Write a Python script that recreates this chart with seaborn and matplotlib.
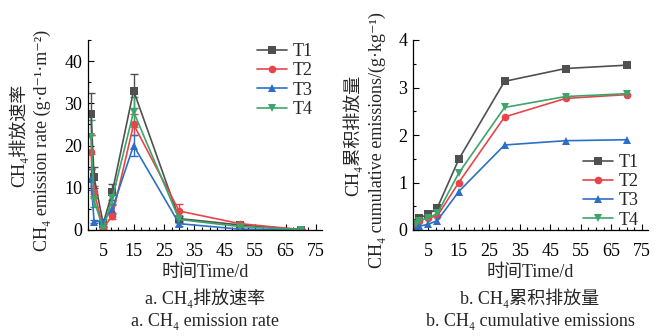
import numpy as np
import pandas as pd
import seaborn as sns
from matplotlib import pyplot as plt
from matplotlib.ticker import MultipleLocator

# data
days = [1, 2, 5, 8, 15, 30, 50, 70]
treatments = ["T1", "T2", "T3", "T4"]

rate_t1 = [27.5, 12.5, 1.5, 9.0, 33.0, 2.7, 1.2, 0.1]
rate_t2 = [18.5, 9.0, 0.5, 3.3, 25.0, 4.5, 1.5, 0.1]
rate_t3 = [12.0, 2.0, 2.0, 5.0, 20.0, 1.5, 0.2, 0.1]
rate_t4 = [22.0, 7.0, 0.3, 7.5, 28.0, 2.5, 0.8, 0.1]

err_t1 = [5.0, 2.5, 0.5, 2.0, 4.0, 0.5, 0.3, 0.1]
err_t2 = [4.0, 1.5, 0.3, 0.8, 2.5, 1.7, 0.3, 0.1]
err_t3 = [2.5, 0.3, 0.5, 1.2, 2.5, 0.5, 0.1, 0.1]
err_t4 = [4.0, 1.5, 0.3, 1.5, 3.5, 0.8, 0.3, 0.1]

cum_t1 = [0.15, 0.25, 0.33, 0.47, 1.49, 3.13, 3.40, 3.47]
cum_t2 = [0.10, 0.20, 0.25, 0.30, 1.00, 2.38, 2.77, 2.85]
cum_t3 = [0.05, 0.08, 0.12, 0.20, 0.81, 1.79, 1.88, 1.90]
cum_t4 = [0.12, 0.20, 0.25, 0.35, 1.20, 2.58, 2.81, 2.87]

colors = {"T1": "#505050", "T2": "#e8454b", "T3": "#2d6fc4", "T4": "#3da56a"}
markers = {"T1": "s", "T2": "o", "T3": "^", "T4": "v"}

sns.set_theme(style="ticks")
plt.rcParams['font.family'] = ['Liberation Serif', 'Noto Sans CJK SC', 'DejaVu Serif']
plt.rcParams['font.size'] = 13
plt.rcParams['axes.unicode_minus'] = False

rates = [rate_t1, rate_t2, rate_t3, rate_t4]
errs = [err_t1, err_t2, err_t3, err_t4]
cums = [cum_t1, cum_t2, cum_t3, cum_t4]

df = pd.concat([
    pd.DataFrame({"day": days, "trt": t, "rate": r, "err": e, "cum": c})
    for t, r, e, c in zip(treatments, rates, errs, cums)
], ignore_index=True)

fig = plt.figure(figsize=(6.64, 3.36), dpi=100)
W, H = 664, 336
ax1 = fig.add_axes([88 / W, 1 - 230 / H, 234 / W, 190 / H])
ax2 = fig.add_axes([413 / W, 1 - 230 / H, 235 / W, 190 / H])

# panel a: emission rate with error bars
for t in treatments:
    sub = df[df.trt == t]
    ax1.errorbar(sub.day, sub.rate, yerr=sub.err, fmt="none",
                 ecolor=colors[t], elinewidth=1.0, capsize=3, capthick=1.0, zorder=1)
sns.lineplot(data=df, x="day", y="rate", hue="trt", style="trt",
             palette=colors, markers=markers, dashes=False,
             markersize=5.5, markeredgewidth=0, linewidth=1.2, ax=ax1)

# panel b: cumulative emissions
sns.lineplot(data=df, x="day", y="cum", hue="trt", style="trt",
             palette=colors, markers=markers, dashes=False,
             markersize=5.5, markeredgewidth=0, linewidth=1.2, ax=ax2)

for ax in (ax1, ax2):
    sns.despine(ax=ax)
    ax.set_xlim(0, 77)
    ax.set_xticks(np.arange(5, 80, 10))
    ax.xaxis.set_minor_locator(MultipleLocator(2.5))
    ax.tick_params(which="both", direction="in", labelsize=13, width=0.8,
                   colors="black")
    ax.tick_params(axis="x", which="both", pad=9)
    ax.tick_params(axis="y", which="both", pad=4)
    ax.tick_params(which="major", length=4)
    ax.tick_params(which="minor", length=2)
    for s in ("left", "bottom"):
        ax.spines[s].set_linewidth(0.9)
        ax.spines[s].set_color("black")
    ax.set_xlabel("时间Time/d", fontsize=13, labelpad=3)
    ax.set_ylabel("")

ax1.set_ylim(0, 45)
ax1.set_yticks([0, 10, 20, 30, 40])
ax1.yaxis.set_minor_locator(MultipleLocator(5))
ax2.set_ylim(0, 4)
ax2.set_yticks([0, 1, 2, 3, 4])
ax2.yaxis.set_minor_locator(MultipleLocator(0.5))

leg_kw = dict(frameon=False, fontsize=13, handlelength=1.7, handletextpad=0.3,
              labelspacing=0.12, borderaxespad=0.1)
ax1.legend(loc="upper right", bbox_to_anchor=(1.0, 1.03), **leg_kw)
ax2.legend(loc="lower right", bbox_to_anchor=(1.0, -0.04), **leg_kw)

# y labels (two lines each)
fig.text(18 / W, 1 - 135 / H, "CH₄排放速率", rotation=90, ha="center", va="center", fontsize=13)
fig.text(42 / W, 1 - 140 / H, "CH₄ emission rate (g·d⁻¹·m⁻²)", rotation=90,
         ha="center", va="center", fontsize=13)
fig.text(352 / W, 1 - 135 / H, "CH₄累积排放量", rotation=90, ha="center", va="center", fontsize=13)
fig.text(377 / W, 1 - 140 / H, "CH₄ cumulative emissions/(g·kg⁻¹)", rotation=90,
         ha="center", va="center", fontsize=13)

# captions
fig.text(205 / W, 1 - 298 / H, "a. CH₄排放速率", ha="center", va="center", fontsize=13)
fig.text(205 / W, 1 - 322 / H, "a. CH₄ emission rate", ha="center", va="center", fontsize=13)
fig.text(530 / W, 1 - 298 / H, "b. CH₄累积排放量", ha="center", va="center", fontsize=13)
fig.text(530 / W, 1 - 322 / H, "b. CH₄ cumulative emissions", ha="center", va="center", fontsize=13)

fig.savefig("out.png", dpi=100)
